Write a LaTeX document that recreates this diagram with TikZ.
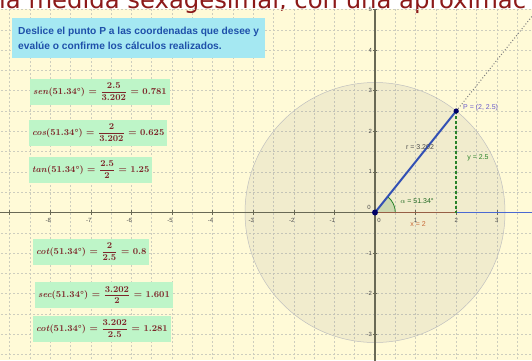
\documentclass[tikz,border=0pt]{standalone}
\usepackage{fontspec}
\newfontfamily\gsans{Liberation Sans}
\newfontfamily\vsans{DejaVu Sans}
\definecolor{bgyellow}{RGB}{255,250,215}
\definecolor{cyanbox}{RGB}{165,232,242}
\definecolor{infotext}{RGB}{30,80,170}
\definecolor{greenbox}{RGB}{190,245,200}
\definecolor{ftext}{RGB}{125,38,42}
\definecolor{titlered}{RGB}{140,25,25}
\definecolor{gridcol}{RGB}{205,205,190}
\definecolor{axiscol}{RGB}{105,105,85}
\definecolor{vecblue}{RGB}{50,80,180}
\definecolor{rayblue}{RGB}{75,105,210}
\definecolor{xbrown}{RGB}{150,95,70}
\definecolor{ygreen}{RGB}{40,130,40}
\definecolor{pviolet}{RGB}{105,90,205}
\definecolor{xorange}{RGB}{200,105,55}
\newcommand{\myfrac}[2]{$\displaystyle\frac{\hbox{\bfseries #1}}{\hbox{\bfseries #2}}$}
\tikzset{
  gridline/.style={gridcol, line width=0.5pt, dash pattern=on 2pt off 2pt},
  axisline/.style={axiscol, line width=1.2pt},
  ticklab/.style={font=\gsans\fontsize{6}{7}\selectfont, text=black!70, inner sep=0pt},
  infobox/.style={fill=cyanbox, anchor=north west, minimum width=253pt, minimum height=40pt,
     align=left, inner xsep=3pt, font=\gsans\bfseries\fontsize{10.2}{15}\selectfont, text=infotext},
  formbox/.style={fill=greenbox, anchor=west, inner xsep=3pt, inner ysep=1pt, minimum height=26pt,
     text=ftext, font=\bfseries\fontsize{9}{11}\selectfont},
  glabel/.style={font=\gsans\fontsize{7}{8}\selectfont, inner sep=0pt},
}
\begin{document}
\begin{tikzpicture}[x=1pt,y=-1pt]
\useasboundingbox (0,0) rectangle (532,360);
\begin{scope}
\clip (0,0) rectangle (532,360);
\fill[white] (0,0) rectangle (532,360);
\fill[bgyellow] (0,9) rectangle (532,360);
\node[anchor=base west, inner sep=0pt, text=titlered, font=\vsans\fontsize{24.3}{26}\selectfont] (ttl) at (-1,8) {la medida sexagesimal, con una aproximac};
\begin{scope}[shift={(375,212.5)}, x=40.6pt, y=40.6pt]
  \coordinate (O) at (0,0);
  \coordinate (P) at (2,2.5);
  \coordinate (X2) at (2,0);
  \coordinate (Xend) at (3.95,0);
  \coordinate (Far) at (4,5);
  \foreach \i in {-19,...,7} \draw[gridline] (\i/2,-3.7) -- (\i/2,5.01);
  \foreach \j in {-7,...,10} \draw[gridline] (-9.3,\j/2) -- (3.95,\j/2);
  \draw[fill=gray, fill opacity=0.11, draw=black!25, line width=0.5pt] (O) circle (3.202);
  \draw[axisline] (-9.3,0) -- (3.95,0);
  \draw[axisline] (0,-3.7) -- (0,5.01);
  \foreach \k in {-9,...,3} \draw[axiscol, line width=0.6pt] (\k,-0.06) -- (\k,0.06);
  \foreach \k in {-3,...,5} \draw[axiscol, line width=0.6pt] (-0.06,\k) -- (0.06,\k);
  \foreach \k in {-8,...,-1} \node[ticklab, anchor=north] at (\k-0.05,-0.14) {\k};
  \foreach \k in {1,2,3} \node[ticklab, anchor=north] at (\k,-0.14) {\k};
  \foreach \k in {-3,...,-1} \node[ticklab, anchor=east] at (-0.07,\k) {\k};
  \foreach \k in {1,...,5} \node[ticklab, anchor=east] at (-0.07,\k) {\k};
  \node[ticklab, anchor=east] at (-0.1,0.12) {0};
  \node[ticklab, anchor=north] at (0.1,-0.14) {0};
  \draw[ygreen, line width=0.8pt, fill=ygreen, fill opacity=0.18] (O) -- (0.5,0) arc (0:51.34:0.5) -- cycle;
  \draw[rayblue, line width=1.8pt] (O) -- (Xend);
  \draw[xbrown, line width=1.6pt] (O) -- (X2);
  \draw[gray, line width=1pt, dotted] (P) -- (Far);
  \draw[ygreen, line width=1.5pt, dash pattern=on 3pt off 2pt] (P) -- (X2);
  \draw[vecblue, line width=2pt] (O) -- (P);
  \fill[blue!40!black] (O) circle (3pt);
  \fill[blue!40!black] (P) circle (2.6pt);
\end{scope}
\node[glabel, text=pviolet, anchor=west] (plab) at (463,108) {P = (2, 2.5)};
\node[glabel, text=black!70] (rlab) at (420,147) {r = 3.202};
\node[glabel, text=ygreen] (ylab) at (478,158) {y = 2.5};
\node[glabel, text=ygreen!80!black] (alab) at (417,201) {$\alpha$ = 51.34°};
\node[glabel, text=xorange] (xlab) at (418,224) {x = 2};
\node[infobox] (info) at (12,18) {Deslice el punto P a las coordenadas que desee y\\evalúe o confirme los cálculos realizados.};
\node[formbox] (f1) at (30,92) {\textit{sen}(51.34°) = \myfrac{2.5}{3.202} = 0.781};
\node[formbox] (f2) at (29,133) {\textit{cos}(51.34°) = \myfrac{2}{3.202} = 0.625};
\node[formbox] (f3) at (29,169.5) {\textit{tan}(51.34°) = \myfrac{2.5}{2} = 1.25};
\node[formbox] (f4) at (33,251.5) {\textit{cot}(51.34°) = \myfrac{2}{2.5} = 0.8};
\node[formbox] (f5) at (35,295) {\textit{sec}(51.34°) = \myfrac{3.202}{2} = 1.601};
\node[formbox] (f6) at (33,328.5) {\textit{cot}(51.34°) = \myfrac{3.202}{2.5} = 1.281};
\end{scope}
\end{tikzpicture}
\end{document}
